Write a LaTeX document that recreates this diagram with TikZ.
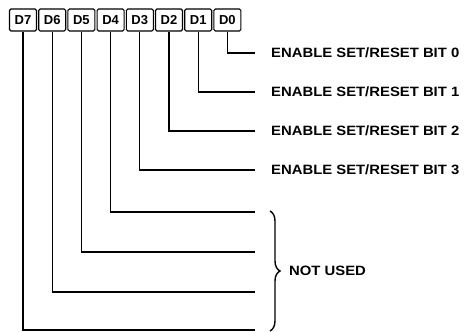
\documentclass[tikz,border=0pt]{standalone}
\usepackage{fontspec}
\setmainfont{Liberation Sans}
\usetikzlibrary{decorations.pathreplacing}
\begin{document}
\begin{tikzpicture}[x=1pt,y=-1pt,
  bitbox/.style={draw,line width=1.1pt,rounded corners=1.5pt,minimum width=27pt,minimum height=22pt,inner sep=0pt,font=\fontsize{13pt}{13pt}\selectfont\bfseries},
  wire/.style={line width=1.1pt},
  lbl/.style={anchor=west,inner sep=0pt,font=\fontsize{13.5pt}{14pt}\selectfont\bfseries}]
\useasboundingbox (0,0) rectangle (466,332);
% bit boxes
\foreach \i in {0,...,7}{
  \pgfmathsetmacro{\cx}{23+29.2*(7-\i)}
  \node[bitbox] (d\i) at (\cx,20) {D\i};
}
% line end coordinates
\coordinate (e0) at (255,53);
\coordinate (e1) at (255,92);
\coordinate (e2) at (255,131);
\coordinate (e3) at (255,170);
\coordinate (e4) at (255,212);
\coordinate (e5) at (255,252);
\coordinate (e6) at (255,292);
\coordinate (e7) at (255,330);
\foreach \i in {0,...,7}{
  \draw[wire] (d\i.south) -- (d\i.south |- e\i) -- (e\i);
}
% labels
\foreach \i in {0,...,3}{
  \node[lbl] (l\i) at ([xshift=16pt]e\i) {\scalebox{1.1}[1]{ENABLE SET/RESET BIT \i}};
}
% brace
\coordinate (bt) at (270,211);
\coordinate (bb) at (270,331);
\draw[line width=1.4pt,decorate,decoration={brace,amplitude=10pt,raise=0pt}] (bt) -- (bb);
\node[lbl] (nu) at (289,271) {\scalebox{1.1}[1]{NOT USED}};
\end{tikzpicture}
\end{document}
